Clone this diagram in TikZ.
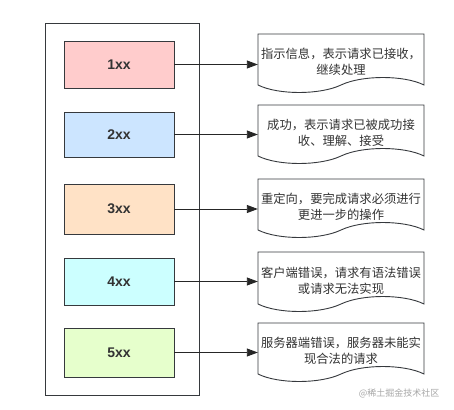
\documentclass[tikz,border=0pt]{standalone}
\usepackage{fontspec}
\setmainfont{Liberation Sans}
\newfontfamily\cjk{Noto Sans CJK SC}
\usetikzlibrary{arrows.meta}
\definecolor{txt}{HTML}{333333}
\definecolor{edge}{HTML}{36393D}
\definecolor{c1}{HTML}{FFCCCC}
\definecolor{c2}{HTML}{CCE5FF}
\definecolor{c3}{HTML}{FFE2C6}
\definecolor{c4}{HTML}{CCFFFF}
\definecolor{c5}{HTML}{E6FFCC}
\tikzset{
  codebox/.style={draw=edge, line width=0.9pt, minimum width=110pt, inner sep=0pt,
    font=\fontsize{14}{16}\selectfont\bfseries, text=txt},
  doctext/.style={minimum width=166pt, inner sep=0pt, align=center,
    font=\cjk\fontsize{12.3}{16}\selectfont, text=txt},
  docshape/.style={draw=edge, line width=0.9pt, fill=white},
  link/.style={draw=black!85, line width=0.9pt, -{Triangle[length=11pt,width=8pt]}},
  frame/.style={draw=edge, line width=0.9pt, inner sep=0pt}
}
\newcommand{\docpath}[2]{%
  \draw[docshape] (258,#1) -- (424,#1) -- (424,#2)
    .. controls (404,#2-10) and (362,#2-10) .. (341,#2)
    .. controls (320,#2+10) and (278,#2+10) .. (258,#2) -- cycle;}
\begin{document}
\begin{tikzpicture}[x=1pt,y=-1pt]
\useasboundingbox (0,0) rectangle (454,409);
\node[frame, minimum width=154pt, minimum height=372pt] (outer) at (122,209) {};
\node[codebox, fill=c1, minimum height=47pt] (b1) at (119,64.5) {1xx};
\node[codebox, fill=c2, minimum height=45pt] (b2) at (119,134.5) {2xx};
\node[codebox, fill=c3, minimum height=50pt] (b3) at (119,209) {3xx};
\node[codebox, fill=c4, minimum height=47pt] (b4) at (119,281.5) {4xx};
\node[codebox, fill=c5, minimum height=49pt] (b5) at (119,352.5) {5xx};
\docpath{34}{85}
\docpath{105}{156}
\docpath{179}{230}
\docpath{252}{304}
\docpath{323}{374}
\node[doctext] (d1) at (341,62) {指示信息，表示请求已接收，\\继续处理};
\node[doctext] (d2) at (341,133) {成功，表示请求已被成功接\\收、理解、接受};
\node[doctext] (d3) at (341,207) {重定向，要完成请求必须进行\\更进一步的操作};
\node[doctext] (d4) at (341,281) {客户端错误，请求有语法错误\\或请求无法实现};
\node[doctext] (d5) at (341,351) {服务器端错误，服务器未能实\\现合法的请求};
\draw[link] (b1.east) -- (b1.east -| d1.west);
\draw[link] (b2.east) -- (b2.east -| d2.west);
\draw[link] (b3.east) -- (b3.east -| d3.west);
\draw[link] (b4.east) -- (b4.east -| d4.west);
\draw[link] (b5.east) -- (b5.east -| d5.west);
\node[font=\cjk\fontsize{9}{10}\selectfont, text=black!35, anchor=east] (wm) at (443,393) {@稀土掘金技术社区};
\end{tikzpicture}
\end{document}
